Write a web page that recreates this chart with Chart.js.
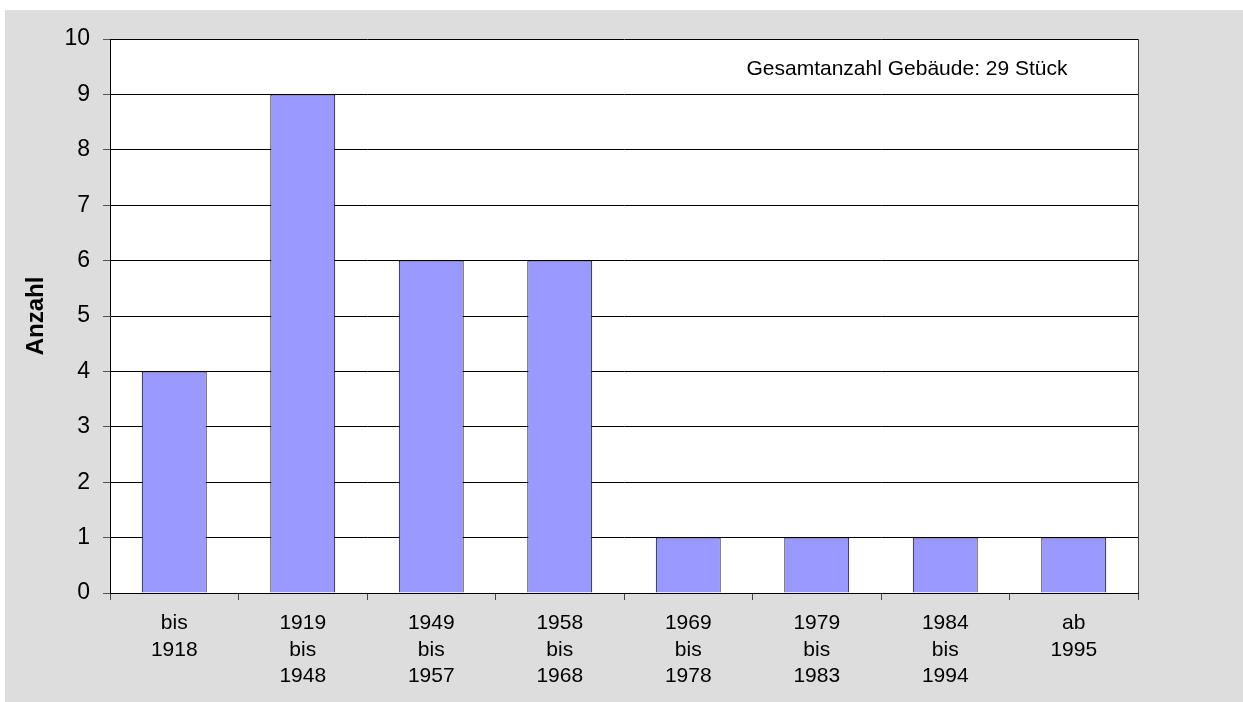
<!DOCTYPE html>
<html>
<head>
<meta charset="utf-8">
<script src="https://cdn.jsdelivr.net/npm/chart.js@4/dist/chart.umd.min.js"></script>
<style>
  html, body { margin: 0; padding: 0; background: #fff; }
  #frame { position: absolute; left: 5px; top: 10px; width: 1238px; height: 692px; background: #dddddd; }
  #frame canvas { display: block; }
</style>
</head>
<body>
<div id="frame"><canvas id="chart" width="1238" height="692"></canvas></div>
<script>
const categories = [
    ['bis', '1918'],
    ['1919', 'bis', '1948'],
    ['1949', 'bis', '1957'],
    ['1958', 'bis', '1968'],
    ['1969', 'bis', '1978'],
    ['1979', 'bis', '1983'],
    ['1984', 'bis', '1994'],
    ['ab', '1995']
];
const counts = [4, 9, 6, 6, 1, 1, 1, 1];
const yTicks = [0, 1, 2, 3, 4, 5, 6, 7, 8, 9, 10];
const note = 'Gesamtanzahl Gebäude: 29 Stück';

const FONT = "'Liberation Sans', Arial, sans-serif";

// white plot area, right frame line and the total note
const plotExtras = {
    id: 'plotExtras',
    beforeDraw(chart) {
        const { ctx, chartArea: a } = chart;
        ctx.save();
        ctx.fillStyle = '#fff';
        ctx.fillRect(a.left, a.top, a.right - a.left, a.bottom - a.top);
        ctx.restore();
    },
    afterDraw(chart) {
        const { ctx, chartArea: a } = chart;
        ctx.save();
        ctx.strokeStyle = '#444';
        ctx.lineWidth = 1;
        ctx.beginPath();
        ctx.moveTo(a.right + 0.5, a.top);
        ctx.lineTo(a.right + 0.5, a.bottom);
        ctx.stroke();
        ctx.fillStyle = '#000';
        ctx.font = '21px ' + FONT;
        ctx.textAlign = 'center';
        ctx.textBaseline = 'middle';
        ctx.fillText(note, a.right - 231, chart.scales.y.getPixelForValue(9.45));
        ctx.restore();
    }
};

new Chart(document.getElementById('chart').getContext('2d'), {
    type: 'bar',
    data: {
        labels: categories,
        datasets: [{
            data: counts,
            backgroundColor: '#9999ff',
            borderColor: '#000',
            borderWidth: 1,
            barPercentage: 0.505,
            categoryPercentage: 1
        }]
    },
    options: {
        responsive: false,
        animation: false,
        layout: { padding: { top: 29, right: 105, left: 0, bottom: 0 } },
        plugins: { legend: { display: false }, tooltip: { enabled: false } },
        scales: {
            x: {
                offset: true,
                grid: { offset: true, drawOnChartArea: false, tickLength: 7, color: '#444' },
                border: { color: '#000', width: 1 },
                ticks: { color: '#000', font: { family: FONT, size: 21, lineHeight: 1.27 }, padding: 10, maxRotation: 0, autoSkip: false },
                afterFit(scale) { scale.height = 109; }
            },
            y: {
                min: 0,
                max: 10,
                afterBuildTicks(scale) { scale.ticks = yTicks.map(v => ({ value: v })); },
                grid: { color: '#000', tickLength: 7, tickColor: '#555' },
                border: { color: '#000', width: 1 },
                ticks: { color: '#000', font: { family: FONT, size: 23 }, padding: 13 },
                title: { display: true, text: 'Anzahl', color: '#000', font: { family: FONT, size: 24, weight: 'bold' }, padding: { top: 17, bottom: 0 } },
                afterFit(scale) { scale.width = 105; }
            }
        }
    },
    plugins: [plotExtras]
});
</script>
</body>
</html>
